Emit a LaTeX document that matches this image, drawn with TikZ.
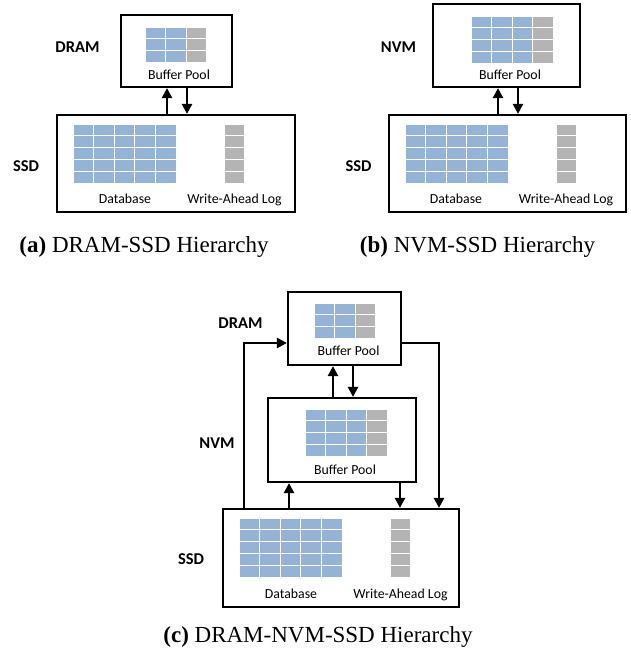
\documentclass[tikz,border=0pt]{standalone}
\usepackage{fontspec}
\newfontfamily\labfont{Carlito}
\newfontfamily\capfont{Liberation Serif}
\usetikzlibrary{arrows.meta}
\definecolor{cellblue}{HTML}{95B3D7}
\definecolor{cellgray}{HTML}{B4B4B4}
\newcommand\cellgrid[6]{% x0, y0, ncols, nblue, nrows
  \foreach \r in {1,...,#5}{%
    \foreach \c in {1,...,#3}{%
      \ifnum\c>#4\relax\def\cc{cellgray}\else\def\cc{cellblue}\fi
      \path[cellbox,fill=\cc] ({#1+(\c-1)*20.6},{#2+(\r-1)*11.8}) rectangle ++(20.6,11.8);
    }%
  }%
}
\tikzset{
  membox/.style={draw=black, line width=2.2pt, inner sep=0pt, rectangle},
  cellbox/.style={draw=white, line width=0.9pt},
  bp/.style={font=\labfont\fontsize{13.8}{16}\selectfont, inner sep=0pt, anchor=base},
  tier/.style={font=\labfont\bfseries\fontsize{16.5}{19}\selectfont, inner sep=0pt},
  captext/.style={font=\capfont\fontsize{23}{27}\selectfont, inner sep=0pt, anchor=base},
  arr/.style={line width=2.4pt, -{Triangle[length=10pt,width=10pt]}},
}
\begin{document}
\begin{tikzpicture}[x=1pt,y=-1pt]
\useasboundingbox (0,0) rectangle (630,654);

% ---------- (a) ----------
\node[membox, minimum width=111pt, minimum height=72pt] (drama) at (176.5,51) {};
\node[membox, minimum width=238pt, minimum height=97pt] (ssda) at (176,163.5) {};
\cellgrid{145}{27}{3}{2}{3}{}
\cellgrid{73}{124}{5}{5}{5}{}
\cellgrid{224}{124}{1}{0}{5}{}
\node[bp] (bpa) at (179,79) {Buffer Pool};
\node[bp] (dba) at (125,203) {Database};
\node[bp] (wala) at (234.5,203) {Write-Ahead Log};
\node[tier] (ldrama) at (77.5,47) {DRAM};
\node[tier] (lssda) at (26,166) {SSD};
\coordinate (ua) at (167,0);
\coordinate (da) at (187,0);
\draw[arr] (ua |- ssda.north) -- (ua |- drama.south);
\draw[arr] (da |- drama.south) -- (da |- ssda.north);
\node[captext] (capa) at (144,252) {\textbf{(a)} DRAM-SSD Hierarchy};

% ---------- (b) ----------
\node[membox, minimum width=147pt, minimum height=83pt] (nvmb) at (506.5,45.5) {};
\node[membox, minimum width=237pt, minimum height=97pt] (ssdb) at (507.5,163.5) {};
\cellgrid{471}{16}{4}{3}{4}{}
\cellgrid{405}{124}{5}{5}{5}{}
\cellgrid{556}{124}{1}{0}{5}{}
\node[bp] (bpb) at (510,79) {Buffer Pool};
\node[bp] (dbb) at (456,203) {Database};
\node[bp] (walb) at (566,203) {Write-Ahead Log};
\node[tier] (lnvmb) at (398.5,47) {NVM};
\node[tier] (lssdb) at (358.5,166) {SSD};
\coordinate (ub) at (498,0);
\coordinate (db) at (518,0);
\draw[arr] (ub |- ssdb.north) -- (ub |- nvmb.south);
\draw[arr] (db |- nvmb.south) -- (db |- ssdb.north);
\node[captext] (capb) at (477.5,252) {\textbf{(b)} NVM-SSD Hierarchy};

% ---------- (c) ----------
\node[membox, minimum width=113pt, minimum height=73pt] (dramc) at (344.5,328.5) {};
\node[membox, minimum width=148pt, minimum height=84pt] (nvmc) at (342,440) {};
\node[membox, minimum width=236pt, minimum height=98pt] (ssdc) at (341,558) {};
\cellgrid{314}{303}{3}{2}{3}{}
\cellgrid{305}{409}{4}{3}{4}{}
\cellgrid{239}{518}{5}{5}{5}{}
\cellgrid{390}{518}{1}{0}{5}{}
\node[bp] (bpc1) at (348.5,355) {Buffer Pool};
\node[bp] (bpc2) at (345,474) {Buffer Pool};
\node[bp] (dbc) at (291,598) {Database};
\node[bp] (walc) at (400.5,598) {Write-Ahead Log};
\node[tier] (ldramc) at (240.5,323.5) {DRAM};
\node[tier] (lnvmc) at (217,443) {NVM};
\node[tier] (lssdc) at (191,559) {SSD};
\coordinate (cy) at (0,343);
\coordinate (cl) at (244,0);
\coordinate (cr) at (439,0);
\coordinate (u1) at (333,0);
\coordinate (d1) at (353,0);
\coordinate (u2) at (289,0);
\coordinate (d2) at (400,0);
\draw[arr] (cl |- ssdc.north) |- (dramc.west |- cy);
\draw[arr] (dramc.east |- cy) -| (cr |- ssdc.north);
\draw[arr] (u1 |- nvmc.north) -- (u1 |- dramc.south);
\draw[arr] (d1 |- dramc.south) -- (d1 |- nvmc.north);
\draw[arr] (u2 |- ssdc.north) -- (u2 |- nvmc.south);
\draw[arr] (d2 |- nvmc.south) -- (d2 |- ssdc.north);
\node[captext] (capc) at (318,642) {\textbf{(c)} DRAM-NVM-SSD Hierarchy};
\end{tikzpicture}
\end{document}
